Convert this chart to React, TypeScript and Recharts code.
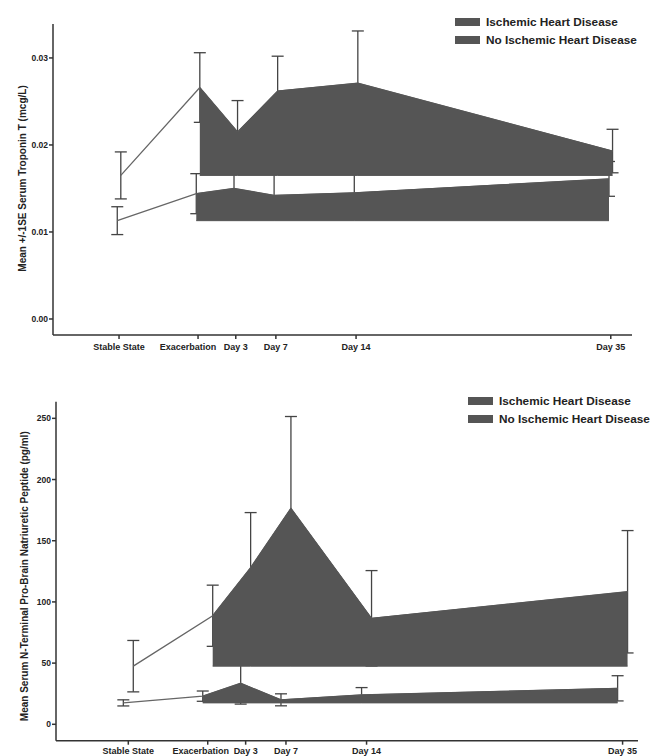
import React from "react"
import {
  Area,
  ComposedChart,
  ErrorBar,
  Legend,
  Line,
  XAxis,
  YAxis,
} from "recharts"

// visit labels and where SPSS put them on the time axis (days from exacerbation)
const stages = ["Stable State", "Exacerbation", "Day 3", "Day 7", "Day 14", "Day 35"]
const stageDays = [-6.7, 0, 3.2, 6.6, 13.4, 35]

const seriesNames = ["Ischemic Heart Disease", "No Ischemic Heart Disease"]

// troponin T (mcg/L), mean and 1 SE
const tropIhdMean = [0.0165, 0.0266, 0.0215, 0.0262, 0.0271, 0.0193]
const tropIhdSe = [0.0027, 0.004, 0.0036, 0.004, 0.006, 0.0025]
const tropNoMean = [0.0113, 0.0144, 0.015, 0.0142, 0.0145, 0.0161]
const tropNoSe = [0.0016, 0.0023, 0.003, 0.0026, 0.0029, 0.002]
const tropTicks = [0, 0.01, 0.02, 0.03]

// NT-proBNP (pg/ml), mean and 1 SE
const bnpIhdMean = [47.5, 88.7, 128, 176.5, 86.6, 108.3]
const bnpIhdSe = [21, 25, 45, 75, 39, 50]
const bnpNoMean = [17.5, 23, 33.5, 20, 24, 29.4]
const bnpNoSe = [2.5, 4.2, 17, 4.9, 6, 10.3]
const bnpTicks = [0, 50, 100, 150, 200, 250]

const FONT = '"Liberation Sans", Arial, sans-serif'
const FILL = "#555555"
const LINE = "#666666"
const INK = "#222222"

type Pt = { x: number; mean: number; err: number; band: [number, number] | null }

// shaded band runs from the stable-state level up to each later visit
function buildSeries(mean: number[], se: number[], dodge: number): Pt[] {
  return stageDays.map((d, i) => ({
    x: d + dodge,
    mean: mean[i],
    err: se[i],
    band: i === 0 ? null : [mean[0], mean[i]],
  }))
}

function LegendBox({ top, left }: { top: number; left: number }) {
  return (
    <div style={{ position: "absolute", top, left, width: 200, fontFamily: FONT }}>
      {seriesNames.map((n) => (
        <div key={n} style={{ display: "flex", alignItems: "center", height: 18.3 }}>
          <div style={{ width: 25, height: 8, background: FILL, marginRight: 6, flex: "none" }} />
          <span style={{ fontSize: 11.8, fontWeight: 700, color: INK, whiteSpace: "nowrap" }}>
            {n}
          </span>
        </div>
      ))}
    </div>
  )
}

type PanelProps = {
  width: number
  height: number
  margin: { top: number; right: number; bottom: number; left: number }
  yWidth: number
  xHeight: number
  xTickMargin: number
  exacShift: number
  xDomain: [number, number]
  yDomain: [number, number]
  yTicks: number[]
  yFormat: (v: number) => string
  yLabel: string
  yLabelX: number
  yLabelShift: number
  ihd: Pt[]
  noIhd: Pt[]
  legendTop: number
  legendLeft: number
}

function StageTick({ x, y, payload, index, exacShift }: any) {
  const i = stageDays.indexOf(payload.value)
  return (
    <text
      x={x + (index === 1 ? exacShift : 0)}
      y={y}
      dy="0.71em"
      textAnchor="middle"
      fontFamily={FONT}
      fontSize={9}
      fontWeight={700}
      fill={INK}
    >
      {i >= 0 ? stages[i] : ""}
    </text>
  )
}

// both layers share these axes so their scales line up exactly
function axes(p: PanelProps, visible: boolean) {
  const tick = { fontSize: 8.5, fontWeight: 700, fill: INK, fontFamily: FONT }
  return [
    <XAxis
      key="x"
      type="number"
      dataKey="x"
      domain={p.xDomain}
      ticks={stageDays}
      interval={0}
      allowDataOverflow
      height={p.xHeight}
      tickMargin={p.xTickMargin}
      tickSize={4}
      tick={visible ? <StageTick exacShift={p.exacShift} /> : false}
      axisLine={visible}
      tickLine={visible}
      stroke="#333"
      strokeWidth={1.5}
    />,
    <YAxis
      key="y"
      type="number"
      domain={p.yDomain}
      ticks={p.yTicks}
      tickFormatter={p.yFormat}
      allowDataOverflow
      width={p.yWidth}
      tickSize={4}
      tickMargin={1}
      tick={visible ? tick : false}
      axisLine={visible}
      tickLine={visible}
      stroke="#333"
      strokeWidth={1.5}
      label={
        visible
          ? {
              content: ({ viewBox }: any) => {
                const cy = viewBox.y + viewBox.height / 2 + p.yLabelShift
                return (
                  <text
                    x={p.yLabelX}
                    y={cy}
                    transform={`rotate(-90 ${p.yLabelX} ${cy})`}
                    textAnchor="middle"
                    dominantBaseline="central"
                    fontFamily={FONT}
                    fontSize={10}
                    fontWeight={700}
                    fill={INK}
                  >
                    {p.yLabel}
                  </text>
                )
              },
            }
          : undefined
      }
    />,
  ]
}

function Panel(p: PanelProps) {
  const layer = { position: "absolute" as const, top: 0, left: 0, width: p.width, height: p.height }
  return (
    <div style={{ position: "relative", width: p.width, height: p.height }}>
      {/* under layer: connecting lines and error bars, half hidden by the bands */}
      <div style={layer}>
        <ComposedChart width={p.width} height={p.height} margin={p.margin}>
          {axes(p, false)}
          {[p.noIhd, p.ihd].map((s, k) => (
            <Line
              key={k}
              data={s}
              dataKey="mean"
              stroke={LINE}
              strokeWidth={1.3}
              dot={false}
              legendType="none"
              isAnimationActive={false}
            >
              <ErrorBar dataKey="err" direction="y" width={6} stroke="#444" strokeWidth={1.3} />
            </Line>
          ))}
        </ComposedChart>
      </div>
      {/* top layer: shaded bands, axes and legend */}
      <div style={layer}>
        <ComposedChart width={p.width} height={p.height} margin={p.margin}>
          {axes(p, true)}
          <Legend
            layout="horizontal"
            verticalAlign="middle"
            align="center"
            wrapperStyle={{ top: 0, left: 0, width: 0, height: 0, overflow: "visible" }}
            content={() => <LegendBox top={p.legendTop} left={p.legendLeft} />}
          />
          <Area
            data={p.noIhd}
            dataKey="band"
            name={seriesNames[1]}
            stroke={FILL}
            strokeWidth={1}
            fill={FILL}
            fillOpacity={1}
            isAnimationActive={false}
          />
          <Area
            data={p.ihd}
            dataKey="band"
            name={seriesNames[0]}
            stroke={FILL}
            strokeWidth={1}
            fill={FILL}
            fillOpacity={1}
            isAnimationActive={false}
          />
        </ComposedChart>
      </div>
    </div>
  )
}

export default function App() {
  // pinned to the viewport so the page never scrolls and nothing gets cut early
  return (
    <div
      style={{
        position: "fixed",
        top: 0,
        left: 0,
        width: 650,
        height: 756,
        padding: 8,
        boxSizing: "border-box",
        overflow: "hidden",
        background: "#fff",
        fontFamily: FONT,
      }}
    >
      <Panel
        width={640}
        height={350}
        margin={{ top: 16, right: 16, bottom: 0, left: 0 }}
        yWidth={45}
        xHeight={23}
        xTickMargin={5}
        exacShift={-10}
        xDomain={[-12.3, 36.8]}
        yDomain={[-0.00184, 0.0339]}
        yTicks={tropTicks}
        yFormat={(v) => v.toFixed(2)}
        yLabel="Mean +/-1SE Serum Troponin T (mcg/L)"
        yLabelX={14}
        yLabelShift={-1}
        ihd={buildSeries(tropIhdMean, tropIhdSe, 0.15)}
        noIhd={buildSeries(tropNoMean, tropNoSe, -0.15)}
        legendTop={5}
        legendLeft={447}
      />
      <Panel
        width={652}
        height={398}
        margin={{ top: 43.7, right: 22, bottom: 0, left: 0 }}
        yWidth={48}
        xHeight={15.3}
        xTickMargin={3}
        exacShift={-7}
        xDomain={[-12.8, 36.3]}
        yDomain={[-13.4, 263.6]}
        yTicks={bnpTicks}
        yFormat={(v) => String(v)}
        yLabel="Mean Serum N-Terminal Pro-Brain Natriuretic Peptide (pg/ml)"
        yLabelX={17}
        yLabelShift={5}
        ihd={buildSeries(bnpIhdMean, bnpIhdSe, 0.42)}
        noIhd={buildSeries(bnpNoMean, bnpNoSe, -0.42)}
        legendTop={34}
        legendLeft={460}
      />
    </div>
  )
}
